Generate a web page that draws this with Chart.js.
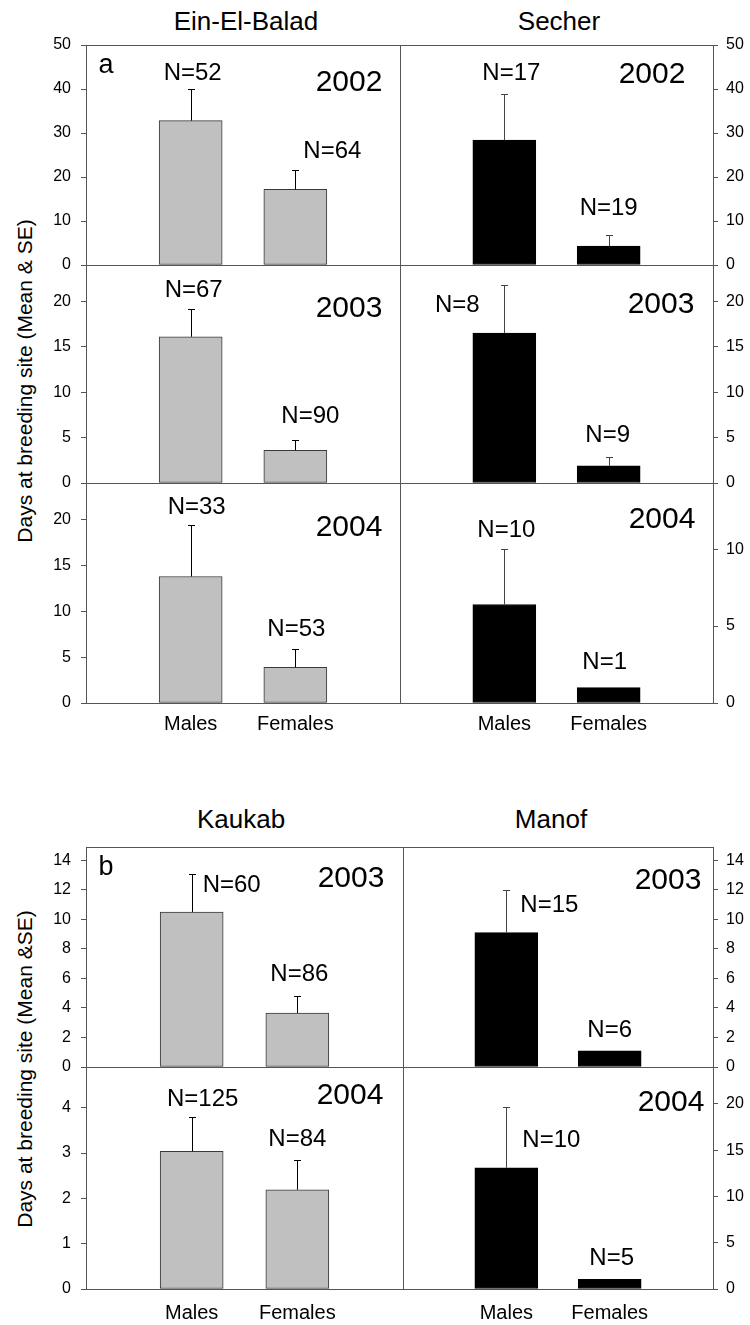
<!DOCTYPE html>
<html>
<head>
<meta charset="utf-8">
<script src="https://cdn.jsdelivr.net/npm/chart.js@4/dist/chart.umd.min.js"></script>
<style>
  body { margin: 0; background: #fff; width: 750px; height: 1325px; position: relative; overflow: hidden;
         font-family: "Liberation Sans", Arial, sans-serif; }
  canvas { position: absolute; }
  .t { position: absolute; line-height: 1; white-space: nowrap; transform: translate(-50%, -50%); color: #000; }
  .ytitle { font-size: 21px; transform: translate(-50%, -50%) rotate(-90deg); }
</style>
</head>
<body>
<div class="t" style="left:246px;top:21px;font-size:26px">Ein-El-Balad</div>
<div class="t" style="left:559px;top:21px;font-size:26px">Secher</div>
<div class="t" style="left:241px;top:819px;font-size:26px">Kaukab</div>
<div class="t" style="left:551px;top:819px;font-size:26px">Manof</div>
<div class="t ytitle" style="left:24px;top:381px">Days at breeding site (Mean &amp; SE)</div>
<div class="t ytitle" style="left:24px;top:1069px">Days at breeding site (Mean &amp;SE)</div>

<script>
const sexes = ['Males', 'Females'];

// part a - Ein-El-Balad (grey) and Secher (black)
const ein2002 = [32.8, 17.2];
const ein2002SE = [7.1, 4.3];
const ein2002N = [52, 64];
const secher2002 = [28.4, 4.3];
const secher2002SE = [10.4, 2.5];
const secher2002N = [17, 19];

const ein2003 = [16.1, 3.6];
const ein2003SE = [3.1, 1.1];
const ein2003N = [67, 90];
const secher2003 = [16.5, 1.9];
const secher2003SE = [5.3, 1.0];
const secher2003N = [8, 9];

const ein2004 = [13.8, 3.9];
const ein2004SE = [5.6, 2.0];
const ein2004N = [33, 53];
const secher2004 = [6.4, 1.0];
const secher2004SE = [3.6, 0];
const secher2004N = [10, 1];

// part b - Kaukab (grey) and Manof (black)
const kaukab2003 = [10.5, 3.65];
const kaukab2003SE = [2.6, 1.15];
const kaukab2003N = [60, 86];
const manof2003 = [9.1, 1.1];
const manof2003SE = [2.9, 0];
const manof2003N = [15, 6];

const kaukab2004 = [3.04, 2.19];
const kaukab2004SE = [0.75, 0.65];
const kaukab2004N = [125, 84];
const manof2004 = [13.1, 1.05];
const manof2004SE = [6.6, 0];
const manof2004N = [10, 5];

Chart.defaults.font.family = '"Liberation Sans", Arial, sans-serif';
const FONT = '"Liberation Sans", Arial, sans-serif';
const grey = { fill: '#c0c0c0', edge: '#3a3a3a' };
const black = { fill: '#000000', edge: '#000000' };

// panel layout: side, divider x, top/bottom px, axis range, label offsets
const panels = [
  { mean: ein2002, se: ein2002SE, n: ein2002N, year: '2002', side: 'left', div: 400, top: 45, bottom: 265,
    max: 50, step: 10, xLabels: false, col: grey, letter: 'a', yearAt: [-51, 38], nAt: [[2, -16], [37, -19]] },
  { mean: secher2002, se: secher2002SE, n: secher2002N, year: '2002', side: 'right', div: 400, top: 45, bottom: 265,
    max: 50, step: 10, xLabels: false, col: black, yearAt: [-61, 30], nAt: [[7, -21], [0, -27]] },
  { mean: ein2003, se: ein2003SE, n: ein2003N, year: '2003', side: 'left', div: 400, top: 265, bottom: 483,
    max: 24, step: 5, xLabels: false, col: grey, yearAt: [-51, 44], nAt: [[3, -18], [15, -24]] },
  { mean: secher2003, se: secher2003SE, n: secher2003N, year: '2003', side: 'right', div: 400, top: 265, bottom: 483,
    max: 24, step: 5, xLabels: false, col: black, yearAt: [-52, 40], nAt: [[-47, 20], [-1, -21]] },
  { mean: ein2004, se: ein2004SE, n: ein2004N, year: '2004', side: 'left', div: 400, top: 483, bottom: 703,
    max: 24, step: 5, xLabels: true, xPad: 1, col: grey, yearAt: [-51, 45], nAt: [[6, -18], [1, -20]] },
  { mean: secher2004, se: secher2004SE, n: secher2004N, year: '2004', side: 'right', div: 400, top: 483, bottom: 703,
    max: 14.3, step: 5, xLabels: true, xPad: 1, col: black, yearAt: [-51, 37], nAt: [[2, -19], [-4, -25]] },

  { mean: kaukab2003, se: kaukab2003SE, n: kaukab2003N, year: '2003', side: 'left', div: 403, top: 847, bottom: 1067,
    max: 14.9, step: 2, xLabels: false, col: grey, letter: 'b', yearAt: [-52, 32], nAt: [[40, 12], [2, -22]] },
  { mean: manof2003, se: manof2003SE, n: manof2003N, year: '2003', side: 'right', div: 403, top: 847, bottom: 1067,
    max: 14.9, step: 2, xLabels: false, col: black, yearAt: [-45, 34], nAt: [[43, 16], [0, -20]] },
  { mean: kaukab2004, se: kaukab2004SE, n: kaukab2004N, year: '2004', side: 'left', div: 403, top: 1067, bottom: 1289,
    max: 4.9, step: 1, xLabels: true, xPad: 4, col: grey, yearAt: [-53, 29], nAt: [[11, -18], [0, -21]] },
  { mean: manof2004, se: manof2004SE, n: manof2004N, year: '2004', side: 'right', div: 403, top: 1067, bottom: 1289,
    max: 24, step: 5, xLabels: true, xPad: 4, col: black, yearAt: [-42, 36], nAt: [[45, 34], [2, -21]] },
];

// error bars, N labels, year, panel letter and the frame
function panelDecor(p) {
  return {
    id: 'panelDecor',
    afterDatasetsDraw(chart) {
      const ctx = chart.ctx;
      const y = chart.scales.y;
      const a = chart.chartArea;
      const bars = chart.getDatasetMeta(0).data;
      ctx.save();
      bars.forEach((bar, k) => {
        const se = p.se[k];
        const top = y.getPixelForValue(p.mean[k] + se);
        if (se > 0) {
          ctx.strokeStyle = p.side === 'left' ? '#000' : '#444';
          ctx.lineWidth = 1;
          const bx = Math.round(bar.x) + 0.5;
          const ty = Math.round(top) + 0.5;
          ctx.beginPath();
          ctx.moveTo(bx, bar.y);
          ctx.lineTo(bx, ty);
          ctx.moveTo(bx - 3.5, ty);
          ctx.lineTo(bx + 3.5, ty);
          ctx.stroke();
        }
        ctx.fillStyle = '#000';
        ctx.font = '24px ' + FONT;
        ctx.textAlign = 'center';
        ctx.textBaseline = 'middle';
        const labelY = se > 0 ? top : y.getPixelForValue(p.mean[k]);
        ctx.fillText('N=' + p.n[k], bar.x + p.nAt[k][0], labelY + p.nAt[k][1]);
      });
      ctx.font = '30px ' + FONT;
      ctx.fillText(p.year, a.right + p.yearAt[0], a.top + p.yearAt[1]);
      if (p.letter) {
        ctx.font = '27px ' + FONT;
        ctx.fillText(p.letter, a.left + 20, a.top + 21);
      }
      ctx.strokeStyle = '#555';
      ctx.lineWidth = 1;
      ctx.strokeRect(Math.round(a.left) + 0.5, Math.round(a.top) + 0.5,
                     Math.round(a.right - a.left), Math.round(a.bottom - a.top));
      ctx.restore();
    }
  };
}

panels.forEach(p => {
  const padT = 24;
  const padB = p.xLabels ? 40 : 24;
  const padSide = 12;
  const left = p.side === 'left' ? 0 : p.div - padSide;
  const width = p.side === 'left' ? p.div + padSide : 750 - left;
  const height = p.bottom - p.top + padT + padB;
  const cv = document.createElement('canvas');
  cv.width = width;
  cv.height = height;
  cv.style.left = left + 'px';
  cv.style.top = (p.top - padT) + 'px';
  cv.style.width = width + 'px';
  cv.style.height = height + 'px';
  document.body.appendChild(cv);

  new Chart(cv, {
    type: 'bar',
    data: {
      labels: ['', ...sexes, ''],
      datasets: [{
        data: sexes.map((s, k) => ({ x: s, y: p.mean[k] })),
        backgroundColor: p.col.fill,
        borderColor: p.col.edge,
        borderWidth: 1,
        borderSkipped: false,
        barThickness: 63
      }]
    },
    options: {
      responsive: false,
      animation: false,
      devicePixelRatio: 1,
      layout: {
        padding: {
          top: padT,
          bottom: p.xLabels ? 0 : padB,
          left: p.side === 'left' ? 0 : padSide,
          right: p.side === 'left' ? padSide : 0
        }
      },
      plugins: { legend: { display: false }, tooltip: { enabled: false } },
      scales: {
        x: {
          type: 'category',
          offset: false,
          grid: { display: false },
          border: { display: false },
          ticks: { display: p.xLabels, color: '#000', font: { size: 20 }, padding: p.xPad || 0, autoSkip: false, maxRotation: 0 },
          afterFit: s => { s.height = p.xLabels ? padB : 0; }
        },
        y: {
          position: p.side,
          min: 0,
          max: p.max,
          ticks: { stepSize: p.step, includeBounds: false, color: '#000', font: { size: 16 }, padding: p.side === 'left' ? 10 : 8 },
          grid: { drawOnChartArea: false, drawTicks: true, tickLength: 5, color: '#555' },
          border: { display: false },
          afterFit: s => { s.width = p.side === 'left' ? 86 : 37; }
        }
      }
    },
    plugins: [panelDecor(p)]
  });
});
</script>
</body>
</html>
